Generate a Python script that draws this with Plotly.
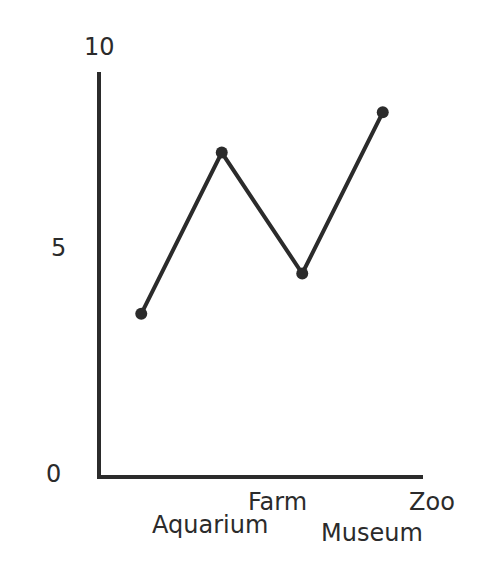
import plotly.graph_objects as go

# datos
places = ['Aquarium', 'Farm', 'Museum', 'Zoo']
visits = [4, 8, 5, 9]
y_ticks = [0, 5, 10]

ink = '#2b2b2b'
font = dict(family='DejaVu Sans', size=24, color=ink)

fig = go.Figure()

fig.add_trace(go.Scatter(
    x=list(range(len(places))), y=visits,
    mode='lines+markers',
    line=dict(color=ink, width=4),
    marker=dict(color=ink, size=12),
    hoverinfo='skip',
))

# etiquetas del eje x (escalonadas como en el original)
x_label_pos = [0.337, 0.549, 0.842, 1.028]
x_label_drop = [50, 27, 58, 27]
for name, px_, drop in zip(places, x_label_pos, x_label_drop):
    fig.add_annotation(text=name, xref='paper', yref='paper', x=px_, y=0,
                       yshift=-drop, showarrow=False, font=font,
                       xanchor='center', yanchor='middle')

# etiquetas del eje y
y_label_pos = [(-0.148, 0.0025), (-0.133, 0.563), (-0.006, 1.062)]
for val, (px_, py_) in zip(y_ticks, y_label_pos):
    fig.add_annotation(text=str(val), xref='paper', yref='paper', x=px_, y=py_,
                       showarrow=False, font=font,
                       xanchor='center', yanchor='middle')

fig.update_xaxes(range=[-0.5, 3.5], showline=True, linecolor=ink, linewidth=4,
                 showticklabels=False, ticks='', showgrid=False, zeroline=False)
fig.update_yaxes(range=[0, 10], showline=True, linecolor=ink, linewidth=4,
                 showticklabels=False, ticks='', showgrid=False, zeroline=False)

# la página tiene 8px de margen en el body
fig.update_layout(
    width=495, height=576,
    margin=dict(l=93, r=80, t=64, b=109),
    paper_bgcolor='white', plot_bgcolor='white',
    showlegend=False,
)

fig.write_html("out.html")
